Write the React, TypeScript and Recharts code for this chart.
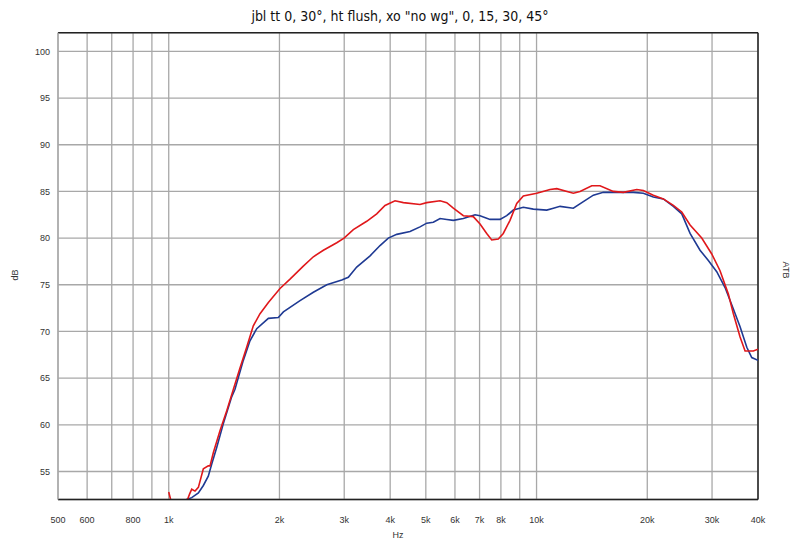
import React from 'react';
import { LineChart, Line, XAxis, YAxis, CartesianGrid, ReferenceLine } from 'recharts';

const redFreq = [1000, 1012, 1040, 1100, 1140, 1155, 1179, 1204, 1242, 1281, 1295, 1322, 1379, 1438, 1499, 1563, 1629, 1698, 1771, 1866, 2007, 2137, 2322, 2473, 2633, 2863, 2997, 3176, 3454, 3677, 3873, 4124, 4344, 4821, 5028, 5466, 5700, 5940, 6324, 6731, 7020, 7320, 7553, 7871, 8120, 8469, 8834, 9206, 10012, 10882, 11349, 12589, 13128, 14127, 14879, 16169, 17215, 18725, 19514, 20772, 22116, 23546, 24821, 26145, 28126, 29945, 31541, 33227, 34284, 35754, 36893, 38851, 40000];
const redDb = [52.8, 52.0, 50.8, 51.0, 52.6, 53.1, 52.9, 53.3, 55.3, 55.6, 55.6, 57.0, 59.4, 61.5, 63.8, 66.1, 68.3, 70.6, 71.9, 73.1, 74.6, 75.6, 77.0, 78.0, 78.7, 79.5, 80.0, 80.9, 81.8, 82.6, 83.5, 84.0, 83.8, 83.6, 83.8, 84.0, 83.8, 83.2, 82.4, 82.3, 81.5, 80.5, 79.8, 79.9, 80.5, 81.9, 83.7, 84.5, 84.8, 85.2, 85.3, 84.8, 85.0, 85.6, 85.6, 85.0, 84.9, 85.2, 85.1, 84.6, 84.2, 83.5, 82.8, 81.4, 80.0, 78.3, 76.5, 74.0, 71.9, 69.4, 67.9, 67.9, 68.1];

const blueFreq = [1093, 1119, 1155, 1204, 1242, 1281, 1309, 1351, 1407, 1483, 1514, 1595, 1663, 1735, 1866, 1986, 2050, 2275, 2473, 2690, 2954, 3078, 3244, 3527, 3754, 3953, 4168, 4529, 4821, 5028, 5241, 5466, 5700, 5940, 6324, 6805, 7020, 7473, 7955, 8296, 8649, 9206, 9800, 10659, 11110, 11587, 12589, 13404, 14271, 15190, 16519, 18331, 19514, 20772, 22116, 23546, 24821, 26145, 27828, 29314, 30892, 32545, 34284, 35754, 37290, 38465, 40000];
const blueDb = [51.3, 52.0, 52.2, 52.7, 53.5, 54.5, 55.8, 57.6, 60.1, 63.0, 63.8, 66.9, 69.0, 70.3, 71.4, 71.5, 72.1, 73.3, 74.2, 75.0, 75.5, 75.8, 76.9, 78.1, 79.2, 80.0, 80.4, 80.7, 81.2, 81.6, 81.7, 82.1, 82.0, 81.9, 82.1, 82.5, 82.4, 82.0, 82.0, 82.4, 83.0, 83.3, 83.1, 83.0, 83.2, 83.4, 83.2, 83.9, 84.6, 84.9, 84.9, 84.9, 84.8, 84.4, 84.2, 83.4, 82.6, 80.5, 78.7, 77.6, 76.4, 74.7, 72.4, 70.5, 68.3, 67.2, 66.9];

const xTicks = [500, 600, 700, 800, 900, 1000, 2000, 3000, 4000, 5000, 6000, 7000, 8000, 9000, 10000, 20000, 30000, 40000];
const xTickLabels = ['500', '600', '', '800', '', '1k', '2k', '3k', '4k', '5k', '6k', '7k', '8k', '', '10k', '20k', '30k', '40k'];
const yTicks = [55, 60, 65, 70, 75, 80, 85, 90, 95, 100];

const title = 'jbl tt 0, 30°, ht flush, xo "no wg", 0, 15, 30, 45°';

const redData = redFreq.map((f, i) => ({ f, db: redDb[i] }));
const blueData = blueFreq.map((f, i) => ({ f, db: blueDb[i] }));

const tickFont = { fontSize: 9, fill: '#333', fontFamily: "'Liberation Sans', Arial, sans-serif" };

export default function App() {
  return (
    <div style={{ position: 'relative', width: 784, height: 533 }}>
      <LineChart width={784} height={533} margin={{ top: 24.7, right: 34, left: 0, bottom: 11.5 }}>
        <CartesianGrid stroke="#a8a8a8" strokeWidth={1.3} />
        <XAxis
          dataKey="f"
          type="number"
          scale="log"
          domain={[500, 40000]}
          allowDataOverflow
          ticks={xTicks}
          tickFormatter={(v: number) => xTickLabels[xTicks.indexOf(v)] ?? ''}
          tickLine={false}
          tickSize={0}
          tickMargin={17}
          height={30}
          axisLine={{ stroke: '#222', strokeWidth: 1.5 }}
          tick={tickFont}
          interval={0}
        />
        <YAxis
          type="number"
          domain={[52, 102]}
          allowDataOverflow
          ticks={yTicks}
          tickLine={false}
          tickSize={0}
          tickMargin={8}
          width={50}
          axisLine={{ stroke: '#a8a8a8', strokeWidth: 1.3 }}
          tick={tickFont}
          interval={0}
        />
        <ReferenceLine y={102} stroke="#222" strokeWidth={1.5} />
        <ReferenceLine x={40000} stroke="#222" strokeWidth={1.5} />
        <Line data={blueData} dataKey="db" stroke="#1f3a93" strokeWidth={1.6} dot={false} isAnimationActive={false} />
        <Line data={redData} dataKey="db" stroke="#e0181b" strokeWidth={1.6} dot={false} isAnimationActive={false} />
        <text x={392} y={12.5} textAnchor="middle" style={{ fontSize: 14, fontFamily: "'DejaVu Sans Condensed', 'Liberation Sans Narrow', sans-serif", fill: '#111' }}>{title}</text>
        <text x={390} y={530} textAnchor="middle" style={tickFont}>Hz</text>
        <text x={10} y={267} textAnchor="middle" transform="rotate(-90 10 267)" style={tickFont}>dB</text>
        <text x={775} y={262} textAnchor="middle" transform="rotate(90 775 262)" style={tickFont}>ATB</text>
      </LineChart>
    </div>
  );
}
